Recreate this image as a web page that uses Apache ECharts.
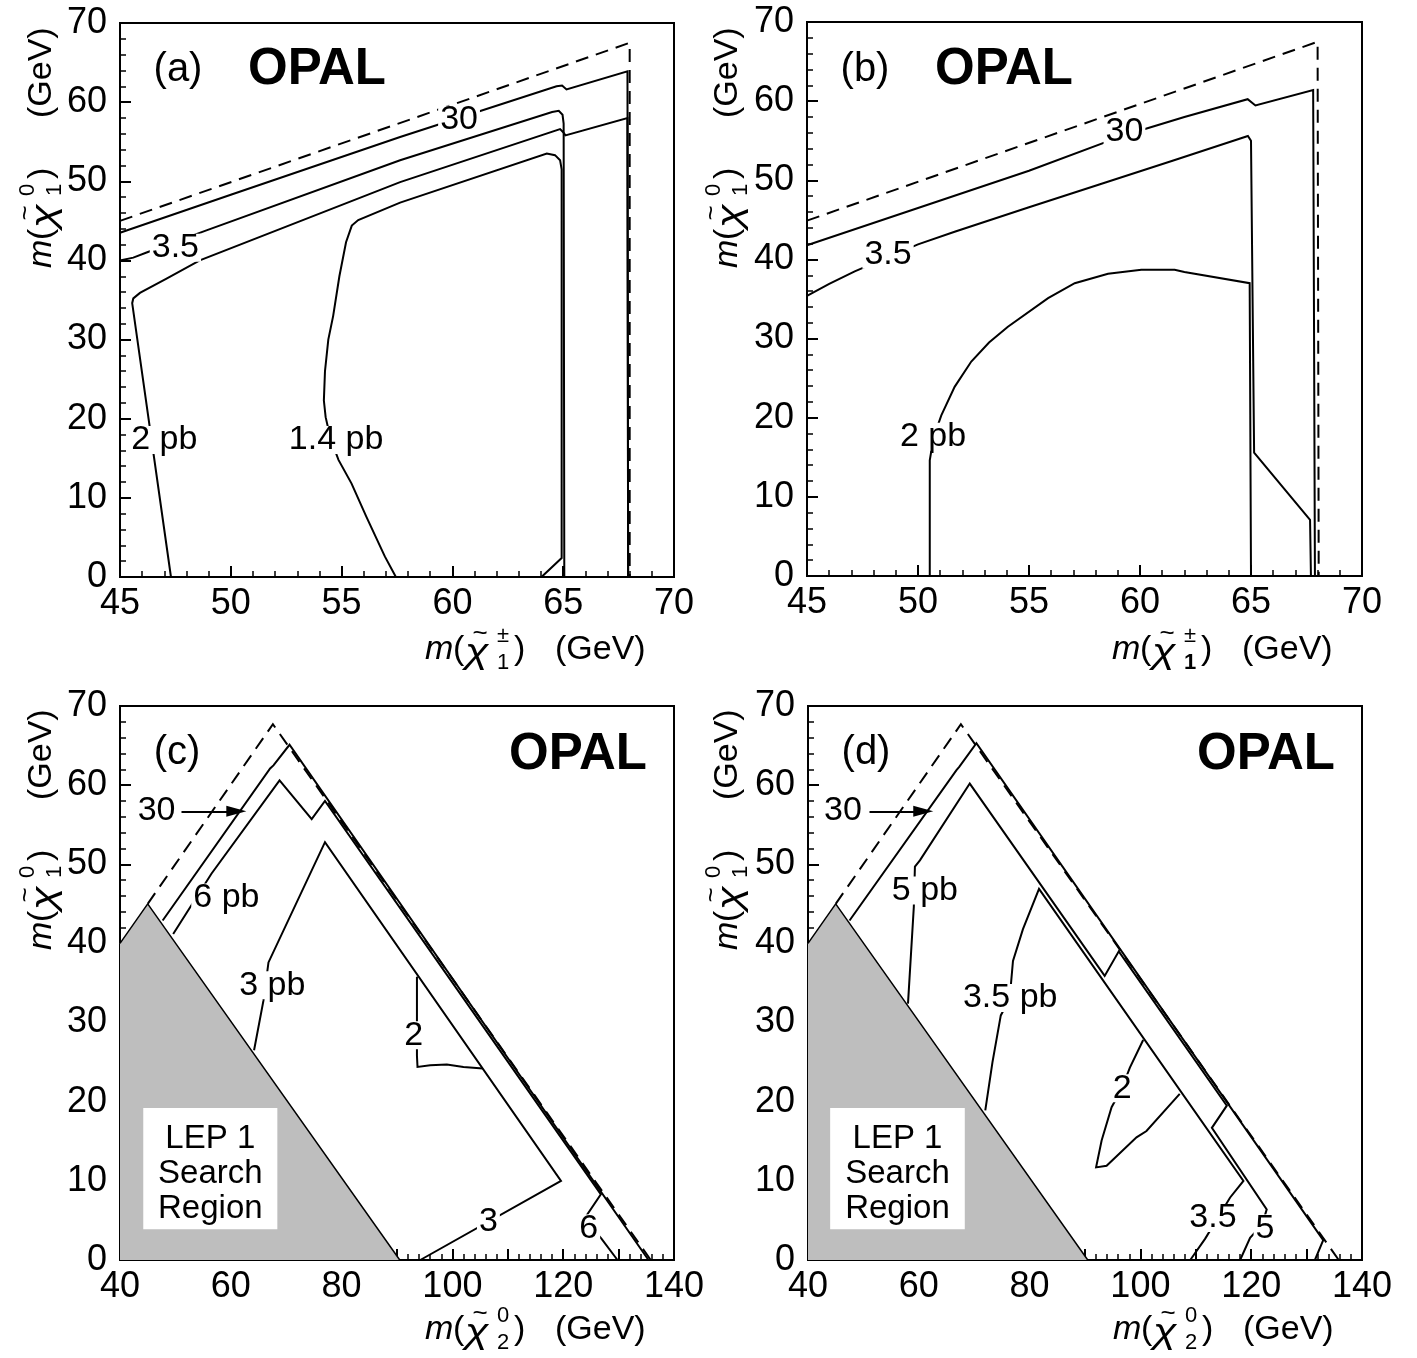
<!DOCTYPE html>
<html>
<head>
<meta charset="utf-8">
<script src="https://cdn.jsdelivr.net/npm/echarts@6/dist/echarts.min.js"></script>
<style>
html,body{margin:0;padding:0;background:#fff;}
#chart{width:1417px;height:1358px;}
</style>
</head>
<body>
<div id="chart"></div>
<script>
// ---------- data (GeV) ----------
// panel (a)
const a_kin  = [[45,45.0],[68.0,67.5],[68.0,0]];
const a_c30  = [[45,43.5],[50,48.3],[57.64,55.6],[64.7,62.0],[64.95,62.1],[65.15,61.6],[67.9,63.9],[67.93,0]];
const a_c35  = [[45,40.0],[45.6,40.35],[46.2,41.0],[48.9,43.8],[57.64,52.65],[64.5,58.75],[64.8,58.9],[64.97,58.4],[65.02,57.3],[65.05,0]];
const a_c2   = [[47.3,0],[45.55,34.6],[45.6,35.2],[45.9,35.9],[47.1,37.7],[48.6,40.0],[57.64,49.9],[64.86,56.6],[65.0,56.2],[65.1,55.8],[67.9,58.0],[67.93,0]];
const a_c14  = [[57.45,0],[56.95,2.6],[56.12,7.6],[55.45,11.8],[54.86,14.8],[54.5,17.5],[54.28,20.2],[54.2,22.3],[54.25,26],[54.4,30],[54.62,33],[54.9,38],[55.2,42.3],[55.46,44.4],[55.75,45.1],[57.64,47.3],[64.26,53.5],[64.63,53.3],[64.86,52.65],[64.93,51.5],[64.93,2.4],[64.02,0]];
const a_labels = [[60.3,57.8,'30'],[47.5,41.6,'3.5'],[47.0,17.3,'2 pb'],[54.75,17.3,'1.4 pb']];

// panel (b)
const b_kin  = [[45,44.9],[68.0,67.5],[68.05,0]];
const b_c30  = [[45,41.8],[50,46.5],[55,51.2],[59.3,55.7],[62,58.0],[64.85,60.25],[65.2,59.45],[67.8,61.4],[67.88,0]];
const b_c35  = [[45,35.4],[46,36.9],[47.15,38.5],[48.65,40.3],[50,41.9],[51.65,43.5],[55,46.6],[58.2,49.5],[61.5,52.5],[64.86,55.6],[65.0,55.0],[65.14,15.6],[67.66,7.1],[67.7,0]];
const b_c2   = [[50.53,0],[50.53,14.6],[50.7,17.5],[51.05,20.3],[51.65,23.9],[52.4,27.1],[53.2,29.5],[54.05,31.5],[55.86,35.1],[57.06,37.0],[58.56,38.2],[60.06,38.7],[61.56,38.7],[62.0,38.4],[64.94,37.0],[65.0,0]];
const b_labels = [[59.3,56.1,'30'],[48.65,40.6,'3.5'],[50.68,17.6,'2 pb']];

// panel (c)
const c_lep  = [[40,40],[45,45],[90.5,0]];
const c_kin  = [[45,45],[67.6,67.7],[135.8,0]];
const c_c30  = [[47.7,42.9],[67.1,62.1],[67.7,62.5],[70.6,65.1],[135.4,0]];
const c_c6   = [[49.6,41.2],[56.5,48.8],[68.8,60.6],[74.6,55.7],[77.0,58.0],[126.8,8.3],[123.8,5.2],[126.9,2.7],[129.8,0]];
const c_c3   = [[64.2,26.5],[65.9,32.8],[66.8,37.6],[77.0,52.8],[119.6,10.0],[94.2,0]];
const c_c2   = [[93.6,35.8],[93.6,25.8],[93.7,24.4],[96,24.6],[99,24.7],[102,24.4],[105.5,24.2]];
const c_labels = [[46.6,56.8,'30'],[59.2,45.8,'6 pb'],[67.5,34.7,'3 pb'],[93.0,28.4,'2'],[106.5,4.8,'3'],[124.6,4.0,'6']];
const c_arrow = [[51.1,56.7],[61.0,56.7]];
const c_box   = [[44.2,19.2],[68.4,3.9]];

// panel (d)
const d_lep  = [[40,40],[45,45],[90.5,0]];
const d_kin  = [[45,45],[67.6,67.7],[135.8,0]];
const d_c30  = [[47.5,42.9],[66.8,61.9],[67.3,62.3],[70.4,65.3],[133.0,2.5],[131.5,0]];
const d_c5   = [[58.05,32.4],[59.1,44.6],[59.3,49.7],[60.2,50.5],[69.2,60.2],[93.55,35.9],[96.1,39.0],[115.6,19.5],[112.9,16.7],[122.8,6.4],[122.0,4.5],[119.8,2.8],[118.0,0]];
const d_c35  = [[72.0,18.9],[73.3,25.0],[74.8,30.9],[76.4,33.0],[77.0,37.8],[78.8,41.8],[81.7,46.9],[118.6,10.0],[116.2,7.9],[111.7,2.7],[109.0,0]];
const d_c2   = [[100.5,27.8],[98.1,24.3],[96.6,21.6],[94.8,19.3],[93.0,15.1],[92.0,11.7],[93.9,11.9],[99.3,15.5],[101.1,16.3],[107.1,21.0]];
const d_labels = [[46.3,56.8,'30'],[61.1,46.7,'5 pb'],[76.5,33.1,'3.5 pb'],[96.7,21.7,'2'],[113.1,5.3,'3.5'],[122.5,4.0,'5']];
const d_arrow = [[51.1,56.7],[60.8,56.7]];
const d_box   = [[44.0,19.2],[68.3,3.9]];

// axes
const xRangeTop = [45, 70, 5];
const xRangeBot = [40, 140, 10];
const yRange    = [0, 70, 10];
const panelTags = ['(a)','(b)','(c)','(d)'];
const boxText = 'LEP 1\nSearch\nRegion';

// ---------- chart ----------
const FONT = '"Liberation Sans", Arial, Helvetica, sans-serif';
const chart = echarts.init(document.getElementById('chart'));

const grids = [
  {left:120, top:23,  width:554, height:554},
  {left:807, top:22,  width:555, height:554},
  {left:120, top:706, width:554, height:554},
  {left:808, top:706, width:554, height:554}
];

function axisCommon(margin){
  return {
    type:'value',
    axisLine:{show:true, onZero:false, lineStyle:{color:'#000', width:2}},
    axisTick:{show:true, inside:true, length:11, lineStyle:{color:'#000', width:2}},
    minorTick:{show:true, splitNumber:5, length:6, lineStyle:{color:'#000', width:1.5}},
    splitLine:{show:false}, minorSplitLine:{show:false},
    axisLabel:{color:'#000', fontSize:36, fontFamily:FONT, margin:margin, showMinLabel:true, showMaxLabel:true}
  };
}
const xAxes = [], yAxes = [];
for (let i=0;i<4;i++){
  const r = i<2 ? xRangeTop : xRangeBot;
  const xa = Object.assign(axisCommon(9), {gridIndex:i, min:r[0], max:r[1], interval:r[2]});
  if (i>=2) xa.axisLabel = Object.assign({}, xa.axisLabel, {formatter: v => (v % 20 === 0 ? String(v) : '')});
  xAxes.push(xa);
  yAxes.push(Object.assign(axisCommon(13), {gridIndex:i, min:yRange[0], max:yRange[1], interval:yRange[2]}));
}

function lineS(i, data, dashed, extra){
  return Object.assign({
    type:'line', xAxisIndex:i, yAxisIndex:i, data:data,
    symbol:'none', showSymbol:false, silent:true, animation:false, z:3,
    lineStyle:{color:'#000', width:2, type: dashed ? [13,8] : 'solid', join:'miter'}
  }, extra||{});
}
function labelS(i, labels, arrow){
  const s = {
    type:'scatter', xAxisIndex:i, yAxisIndex:i, silent:true, animation:false, z:10,
    symbolSize:1, itemStyle:{color:'rgba(0,0,0,0)', opacity:1},
    data: labels.map(l => ({name:l[2], value:[l[0], l[1]]})),
    label:{show:true, position:'inside', formatter: p => p.name, color:'#000', opacity:1,
           fontSize:34, fontFamily:FONT, backgroundColor:'#fff', padding:[0,2], lineHeight:28,
           textBorderWidth:0}
  };
  if (arrow){
    s.markLine = {silent:true, animation:false, symbol:['none','triangle'], symbolSize:[11,20],
      label:{show:false}, lineStyle:{color:'#000', width:2, type:'solid', opacity:1},
      data:[[{coord:arrow[0]},{coord:arrow[1]}]]};
  }
  return s;
}
function boxS(i, box){
  return {
    type:'custom', xAxisIndex:i, yAxisIndex:i, silent:true, animation:false, z:6,
    data:[[box[0][0], box[0][1], box[1][0], box[1][1]]],
    encode:{x:[0,2], y:[1,3]},
    renderItem:function(params, api){
      const p0 = api.coord([api.value(0), api.value(1)]);
      const p1 = api.coord([api.value(2), api.value(3)]);
      return {type:'group', children:[
        {type:'rect', shape:{x:p0[0], y:p0[1], width:p1[0]-p0[0], height:p1[1]-p0[1]}, style:{fill:'#fff'}},
        {type:'text', style:{text:boxText, x:(p0[0]+p1[0])/2, y:(p0[1]+p1[1])/2 + 5,
          font:'33px ' + FONT, fill:'#000', lineHeight:35,
          align:'center', textAlign:'center', verticalAlign:'middle', textVerticalAlign:'middle'}}
      ]};
    }
  };
}
function lepS(i, data){
  return lineS(i, data, false, {z:2, lineStyle:{color:'#000', width:1.5},
    areaStyle:{color:'#bebebe', opacity:1, origin:'start'}});
}

const series = [
  lineS(0,a_kin,true), lineS(0,a_c30), lineS(0,a_c35), lineS(0,a_c2), lineS(0,a_c14), labelS(0,a_labels),
  lineS(1,b_kin,true), lineS(1,b_c30), lineS(1,b_c35), lineS(1,b_c2), labelS(1,b_labels),
  lepS(2,c_lep), boxS(2,c_box), lineS(2,c_kin,true), lineS(2,c_c30), lineS(2,c_c6), lineS(2,c_c3), lineS(2,c_c2), labelS(2,c_labels,c_arrow),
  lepS(3,d_lep), boxS(3,d_box), lineS(3,d_kin,true), lineS(3,d_c30), lineS(3,d_c5), lineS(3,d_c35), lineS(3,d_c2), labelS(3,d_labels,d_arrow)
];

// ---------- annotations ----------
function txt(x, y, text, font, align, extra){
  return Object.assign({type:'text', x:x, y:y, silent:true, style:{text:text, font:font, fill:'#000',
    align: align||'left', textAlign: align||'left', verticalAlign:'middle', textVerticalAlign:'middle'}}, extra||{});
}
function axisTitle(x, y, rot, sup, sub, subBold, gevOff){
  return {type:'group', x:x, y:y, rotation:rot, silent:true, children:[
    txt(0, 0, 'm', 'italic 34px ' + FONT),
    txt(28, 0, '(', '34px ' + FONT),
    txt(40, 3, 'χ', 'italic 36px ' + FONT, 'left', {scaleX:1.2}),
    txt(55, -16, '~', '26px ' + FONT, 'center'),
    txt(78, -14, sup, '22px ' + FONT, 'center'),
    txt(78, 13, sub, (subBold ? 'bold ' : '') + '22px ' + FONT, 'center'),
    txt(89, 0, ')', '34px ' + FONT),
    txt(gevOff, 0, '(GeV)', '34px ' + FONT)
  ]};
}
const graphic = [
  txt(178, 70, panelTags[0], '40px ' + FONT, 'center'),
  txt(317, 70, 'OPAL', 'bold 51px ' + FONT, 'center'),
  txt(865, 70, panelTags[1], '40px ' + FONT, 'center'),
  txt(1004, 70, 'OPAL', 'bold 51px ' + FONT, 'center'),
  txt(177, 753, panelTags[2], '40px ' + FONT, 'center'),
  txt(578, 755, 'OPAL', 'bold 51px ' + FONT, 'center'),
  txt(866, 753, panelTags[3], '40px ' + FONT, 'center'),
  txt(1266, 755, 'OPAL', 'bold 51px ' + FONT, 'center'),
  axisTitle(425, 650, 0, '±', '1', false, 130),
  axisTitle(42, 268, Math.PI/2, '0', '1', false, 150),
  axisTitle(1112, 650, 0, '±', '1', true, 130),
  axisTitle(728, 268, Math.PI/2, '0', '1', false, 150),
  axisTitle(425, 1330, 0, '0', '2', false, 130),
  axisTitle(42, 950, Math.PI/2, '0', '1', false, 150),
  axisTitle(1113, 1330, 0, '0', '2', false, 130),
  axisTitle(728, 950, Math.PI/2, '0', '1', false, 150)
];

chart.setOption({
  animation:false,
  backgroundColor:'#fff',
  grid: grids.map(g => Object.assign({show:true, borderColor:'#000', borderWidth:2, backgroundColor:'rgba(0,0,0,0)', containLabel:false}, g)),
  xAxis: xAxes,
  yAxis: yAxes,
  series: series,
  graphic: graphic
});
</script>
</body>
</html>
